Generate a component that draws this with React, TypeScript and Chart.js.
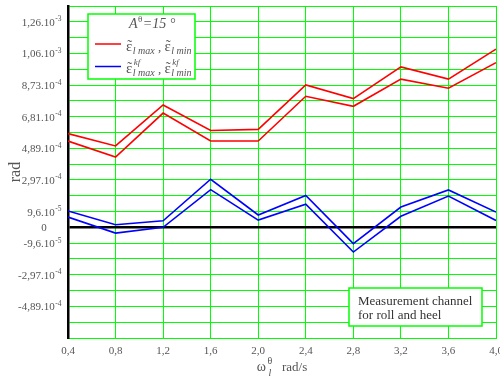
import React, { useEffect, useRef } from "react";
import { Chart, registerables } from "chart.js";
Chart.register(...registerables);

// One grid step on the y axis (rad)
const STEP = 9.6e-5;
const Y_MIN_STEPS = -7;
const Y_MAX_STEPS = 14;

const omega = [0.4, 0.8, 1.2, 1.6, 2.0, 2.4, 2.8, 3.2, 3.6, 4.0];
const xTickLabels = ["0,4", "0,8", "1,2", "1,6", "2,0", "2,4", "2,8", "3,2", "3,6", "4,0"];

const epsMax = [5.69e-4, 4.94e-4, 7.43e-4, 5.88e-4, 5.95e-4, 8.65e-4, 7.82e-4, 9.74e-4, 9.0e-4, 1.082e-3];
const epsMin = [5.24e-4, 4.27e-4, 6.94e-4, 5.24e-4, 5.24e-4, 7.96e-4, 7.35e-4, 9.0e-4, 8.45e-4, 1.0e-3];
const epsKfMax = [0.99e-4, 0.16e-4, 0.4e-4, 2.92e-4, 0.75e-4, 1.93e-4, -0.99e-4, 1.23e-4, 2.27e-4, 0.93e-4];
const epsKfMin = [0.62e-4, -0.35e-4, 0.0, 2.29e-4, 0.44e-4, 1.4e-4, -1.5e-4, 0.67e-4, 1.9e-4, 0.42e-4];

const yTickSteps = [13, 11, 9, 7, 5, 3, 1, 0, -1, -3, -5];
const yTickMantissa = ["1,26.10", "1,06.10", "8,73.10", "6,81.10", "4,89.10", "2,97.10", "9,6.10", "0", "-9,6.10", "-2,97.10", "-4,89.10"];
const yTickExp = ["-3", "-3", "-4", "-4", "-4", "-4", "-5", "", "-5", "-4", "-4"];

const SERIF = "'Liberation Serif', 'Times New Roman', serif";
const GREEN = "#00ff00";
const TEXT = "#555555";

function pts(ys: number[]) {
  return omega.map((x, i) => ({ x, y: ys[i] }));
}

function draw(ctx: CanvasRenderingContext2D, s: string, x: number, y: number, font: string) {
  ctx.font = font;
  ctx.fillText(s, x, y);
  return ctx.measureText(s).width;
}

function epsTilde(ctx: CanvasRenderingContext2D, x: number, y: number) {
  ctx.font = `15px ${SERIF}`;
  const w = ctx.measureText("ε").width;
  ctx.fillText("ε", x, y);
  ctx.textAlign = "center";
  ctx.fillText("˜", x + w / 2 + 0.5, y - 1);
  ctx.textAlign = "left";
  return w;
}

const customPlugin = {
  id: "customText",
  afterDraw(chart: any) {
    const { ctx, chartArea } = chart;
    const yScale = chart.scales.y;
    ctx.save();
    ctx.fillStyle = TEXT;
    ctx.textBaseline = "alphabetic";
    ctx.textAlign = "left";

    // Y tick labels with superscript exponents
    yTickSteps.forEach((k, i) => {
      const py = yScale.getPixelForValue(k * STEP);
      const m = yTickMantissa[i];
      const e = yTickExp[i];
      if (!e) {
        ctx.font = `11px ${SERIF}`;
        ctx.textAlign = "center";
        ctx.fillText(m, chartArea.left - 24, py + 4);
        ctx.textAlign = "left";
        return;
      }
      ctx.font = `11px ${SERIF}`;
      const wm = ctx.measureText(m).width;
      ctx.font = `7.5px ${SERIF}`;
      const we = ctx.measureText(e).width;
      const x0 = chartArea.left - 7 - wm - we;
      draw(ctx, m, x0, py + 4, `11px ${SERIF}`);
      draw(ctx, e, x0 + wm + 0.5, py - 0.5, `7.5px ${SERIF}`);
    });

    // X axis title: ω with sup θ and sub l, then rad/s
    {
      const cx = (chartArea.left + chartArea.right) / 2;
      const base = chartArea.bottom + 33;
      ctx.font = `14px ${SERIF}`;
      const wOm = ctx.measureText("ω").width;
      ctx.font = `10px ${SERIF}`;
      const wTh = ctx.measureText("θ").width;
      ctx.font = `13px ${SERIF}`;
      const wGap = ctx.measureText("   ").width;
      const wRad = ctx.measureText("rad/s").width;
      const total = wOm + 1.5 + wTh + wGap + wRad;
      let x = cx - total / 2;
      x += draw(ctx, "ω", x, base, `14px ${SERIF}`) + 1.5;
      draw(ctx, "θ", x, base - 7, `10px ${SERIF}`);
      draw(ctx, "l", x + 1, base + 5, `italic 10px ${SERIF}`);
      x += wTh + wGap;
      draw(ctx, "rad/s", x, base, `13px ${SERIF}`);
    }

    // Legend box
    {
      const bx = chartArea.left + 20;
      const by = chartArea.top + 8;
      const bw = 107;
      const bh = 65;
      ctx.fillStyle = "#ffffff";
      ctx.fillRect(bx, by, bw, bh);
      ctx.strokeStyle = GREEN;
      ctx.lineWidth = 1.5;
      ctx.strokeRect(bx, by, bw, bh);
      ctx.fillStyle = TEXT;

      // title A^θ=15°
      let x = bx + 41;
      let b = by + 14;
      x += draw(ctx, "A", x, b, `italic 14px ${SERIF}`);
      x += draw(ctx, "θ", x + 0.5, b - 6, `9px ${SERIF}`) + 1;
      x += draw(ctx, "=15 ", x, b, `italic 14px ${SERIF}`);
      draw(ctx, "°", x, b, `italic 14px ${SERIF}`);

      // red sample
      ctx.strokeStyle = "#ff0000";
      ctx.lineWidth = 1.5;
      ctx.beginPath();
      ctx.moveTo(bx + 7, by + 30);
      ctx.lineTo(bx + 33, by + 30);
      ctx.stroke();
      // blue sample
      ctx.strokeStyle = "#0000ff";
      ctx.beginPath();
      ctx.moveTo(bx + 7, by + 52.5);
      ctx.lineTo(bx + 33, by + 52.5);
      ctx.stroke();

      // row 2
      ctx.fillStyle = TEXT;
      x = bx + 38;
      b = by + 37;
      x += epsTilde(ctx, x, b) + 0.5;
      x += draw(ctx, "l max", x, b + 2.5, `italic 10px ${SERIF}`);
      x += draw(ctx, " , ", x, b, `13px ${SERIF}`);
      x += epsTilde(ctx, x, b) + 0.5;
      draw(ctx, "l min", x, b + 2.5, `italic 10px ${SERIF}`);

      // row 3
      x = bx + 38;
      b = by + 59;
      x += epsTilde(ctx, x, b) + 0.5;
      draw(ctx, "kf", x + 1, b - 8, `italic 9px ${SERIF}`);
      x += draw(ctx, "l max", x, b + 2.5, `italic 10px ${SERIF}`);
      x += draw(ctx, " , ", x, b, `13px ${SERIF}`);
      x += epsTilde(ctx, x, b) + 0.5;
      draw(ctx, "kf", x + 1, b - 8, `italic 9px ${SERIF}`);
      draw(ctx, "l min", x, b + 2.5, `italic 10px ${SERIF}`);
    }

    // Annotation box
    {
      const bw = 133;
      const bh = 38;
      const bx = chartArea.right - 14 - bw;
      const by = chartArea.bottom - 12 - bh;
      ctx.fillStyle = "#ffffff";
      ctx.fillRect(bx, by, bw, bh);
      ctx.strokeStyle = GREEN;
      ctx.lineWidth = 1.5;
      ctx.strokeRect(bx, by, bw, bh);
      ctx.fillStyle = "#333333";
      draw(ctx, "Measurement channel", bx + 9, by + 17, `13px ${SERIF}`);
      draw(ctx, "for roll and heel", bx + 9, by + 31, `13px ${SERIF}`);
    }
    ctx.restore();
  },
};

export default function App() {
  const ref = useRef<HTMLCanvasElement | null>(null);
  useEffect(() => {
    if (!ref.current) return;
    const chart = new Chart(ref.current, {
      type: "line",
      data: {
        datasets: [
          { data: pts(epsMax), borderColor: "#ff0000", borderWidth: 1.6, pointRadius: 0, tension: 0 },
          { data: pts(epsMin), borderColor: "#ff0000", borderWidth: 1.6, pointRadius: 0, tension: 0 },
          { data: pts(epsKfMax), borderColor: "#0000ff", borderWidth: 1.6, pointRadius: 0, tension: 0 },
          { data: pts(epsKfMin), borderColor: "#0000ff", borderWidth: 1.6, pointRadius: 0, tension: 0 },
        ],
      },
      options: {
        responsive: false,
        animation: false,
        layout: { padding: { left: 0, top: 6, right: 4, bottom: 0 } },
        plugins: { legend: { display: false }, tooltip: { enabled: false } },
        scales: {
          x: {
            type: "linear",
            min: omega[0],
            max: omega[omega.length - 1],
            afterBuildTicks: (scale: any) => {
              scale.ticks = omega.map((v) => ({ value: v }));
            },
            afterFit: (scale: any) => {
              scale.height = 44;
              scale.paddingLeft = 0;
              scale.paddingRight = 0;
            },
            ticks: {
              autoSkip: false,
              maxRotation: 0,
              padding: 7,
              color: TEXT,
              font: { family: SERIF, size: 11 },
              callback: (_v: any, i: number) => xTickLabels[i],
            },
            grid: { color: GREEN, lineWidth: 1, drawTicks: false },
            border: { color: GREEN, width: 1 },
          },
          y: {
            type: "linear",
            min: Y_MIN_STEPS * STEP,
            max: Y_MAX_STEPS * STEP,
            afterBuildTicks: (scale: any) => {
              const t: any[] = [];
              for (let k = Y_MIN_STEPS; k <= Y_MAX_STEPS; k++) t.push({ value: k * STEP });
              scale.ticks = t;
            },
            afterFit: (scale: any) => {
              scale.width = 68;
            },
            ticks: { display: false },
            grid: {
              drawTicks: false,
              color: (c: any) => (Math.abs(c.tick.value) < STEP / 10 ? "#000000" : GREEN),
              lineWidth: (c: any) => (Math.abs(c.tick.value) < STEP / 10 ? 2.5 : 1),
            },
            border: { color: "#000000", width: 2.5 },
            title: {
              display: true,
              text: "rad",
              color: TEXT,
              font: { family: SERIF, size: 16 },
              padding: { top: 6, bottom: 0 },
            },
          },
        },
      },
      plugins: [customPlugin],
    } as any);
    return () => chart.destroy();
  }, []);
  return (
    <div style={{ position: "fixed", left: 0, top: 0, width: 500, height: 382, background: "#fff" }}>
      <canvas ref={ref} width={500} height={382} style={{ display: "block" }} />
    </div>
  );
}
